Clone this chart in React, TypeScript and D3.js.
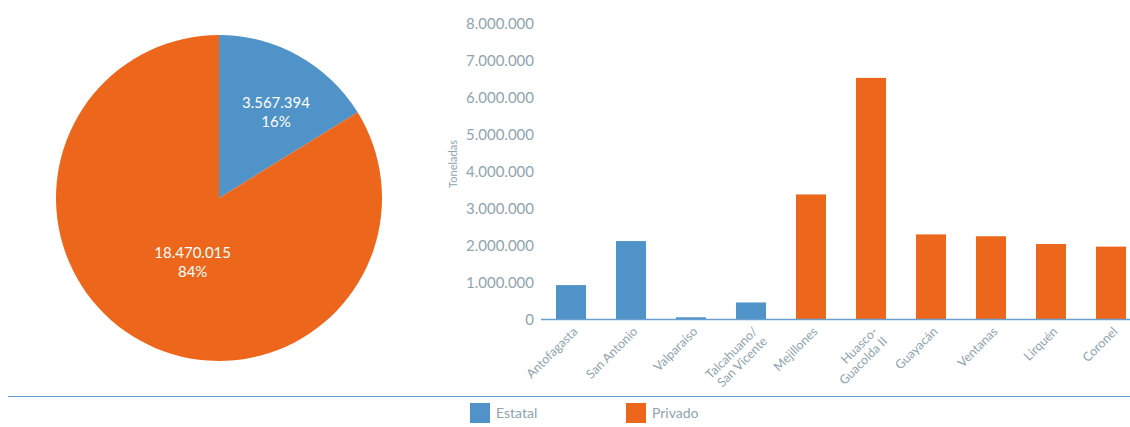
import React from "react";
import * as d3 from "d3";

const pieLabels = ["Estatal", "Privado"];
const pieValues = [3567394, 18470015];
const piePercents = ["16%", "84%"];

const ports = [
  ["Antofagasta"],
  ["San Antonio"],
  ["Valparaíso"],
  ["Talcahuano/", "San Vicente"],
  ["Mejillones"],
  ["Huasco-", "Guacolda II"],
  ["Guayacán"],
  ["Ventanas"],
  ["Lirquén"],
  ["Coronel"],
];
const portValues = [930000, 2120000, 60000, 460000, 3380000, 6530000, 2300000, 2250000, 2040000, 1970000];
const portType = ["Estatal", "Estatal", "Estatal", "Estatal", "Privado", "Privado", "Privado", "Privado", "Privado", "Privado"];
const yTicks = [0, 1000000, 2000000, 3000000, 4000000, 5000000, 6000000, 7000000, 8000000];

const BLUE = "#4f93c8";
const ORANGE = "#ec671c";
const TEXT = "#8fa4ae";
const FONT = "Lato, 'Open Sans', sans-serif";

const fmt = (v: number) => d3.format(",")(v).replace(/,/g, ".");

export default function App() {
  const color = d3.scaleOrdinal<string, string>().domain(pieLabels).range([BLUE, ORANGE]);

  // Pie
  const cx = 219, cy = 198, r = 163;
  const arcs = d3.pie<number>().sort(null)(pieValues);
  const arcGen = d3.arc<d3.PieArcDatum<number>>().innerRadius(0).outerRadius(r);
  const labelRadius = [1.36, 0.84];
  const labelShift = [[3, 10], [7, 3]];

  // Bars
  const x = d3.scaleBand<number>().domain(ports.map((_, i) => i)).range([541, 1141]).paddingInner(0.5).paddingOuter(0.25);
  const y = d3.scaleLinear().domain([0, 8000000]).range([319.5, 23.5]);

  return (
    <svg width={1130} height={427} style={{ position: "absolute", left: 0, top: 0 }} fontFamily={FONT}>
      <g transform={`translate(${cx},${cy})`}>
        {arcs.map((a, i) => (
          <path key={i} d={arcGen(a) || ""} fill={color(pieLabels[i])} />
        ))}
        {arcs.map((a, i) => {
          const lg = d3.arc<d3.PieArcDatum<number>>().innerRadius(0).outerRadius(r * labelRadius[i]);
          const [lx0, ly0] = lg.centroid(a);
          const lx = lx0 + labelShift[i][0];
          const ly = ly0 + labelShift[i][1];
          return (
            <text key={i} x={lx} y={ly} textAnchor="middle" fill="#fff" fontSize={15}>
              <tspan x={lx} dy="-0.2em">{fmt(pieValues[i])}</tspan>
              <tspan x={lx} dy="1.25em">{piePercents[i]}</tspan>
            </text>
          );
        })}
      </g>

      {/* Y axis ticks */}
      {yTicks.map((t) => (
        <text key={t} x={534} y={y(t)} dy="0.35em" textAnchor="end" fill={TEXT} fontSize={15}>
          {fmt(t)}
        </text>
      ))}
      <text transform={`translate(457,164) rotate(-90)`} textAnchor="middle" fill={TEXT} fontSize={11}>
        Toneladas
      </text>

      {/* Bars */}
      {portValues.map((v, i) => (
        <rect key={i} x={x(i)} y={y(v)} width={x.bandwidth()} height={y(0) - y(v)} fill={color(portType[i])} />
      ))}
      <line x1={541} x2={1130} y1={319.5} y2={319.5} stroke="#6a9fcf" strokeWidth={1.5} />

      {ports.map((lines, i) => {
        const c = (x(i) as number) + x.bandwidth() / 2;
        return (
          <text key={i} transform={`translate(${c + 2},${327}) rotate(-45)`} textAnchor="end" fill={TEXT} fontSize={12.5}>
            {lines.map((l, j) => (
              <tspan key={j} x={0} dy={j === 0 ? "0.6em" : "1.1em"}>{l}</tspan>
            ))}
          </text>
        );
      })}

      {/* Divider + legend */}
      <line x1={8} x2={1130} y1={396.5} y2={396.5} stroke="#5b9bd5" strokeWidth={1} />
      {pieLabels.map((l, i) => (
        <g key={l} transform={`translate(${470 + i * 156},403)`}>
          <rect width={20} height={20} fill={color(l)} />
          <text x={26} y={10} dy="0.35em" fill={TEXT} fontSize={14}>{l}</text>
        </g>
      ))}
    </svg>
  );
}
